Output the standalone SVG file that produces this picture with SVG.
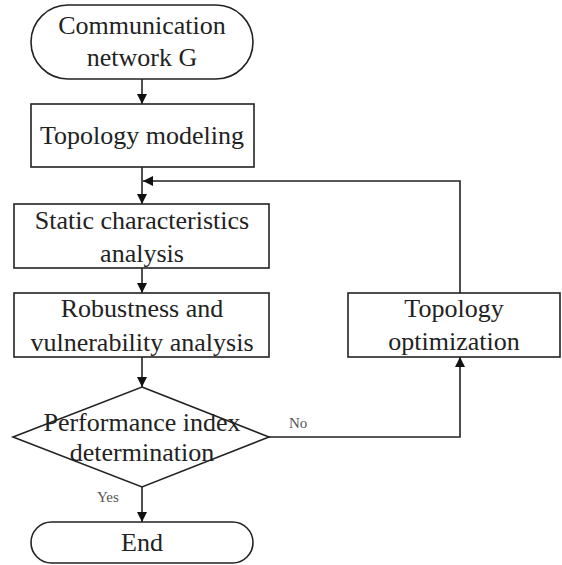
<svg xmlns="http://www.w3.org/2000/svg" width="562" height="565" viewBox="0 0 562 565">
<style>
.shape{fill:#fff;stroke:#222;stroke-width:1.6}
.t{font-family:"Liberation Serif",serif;font-size:26px;fill:#222;text-anchor:middle}
.lbl{font-family:"Liberation Serif",serif;font-size:15px;fill:#555}
.conn{fill:none;stroke:#222;stroke-width:1.6}
</style>
<defs>
<marker id="ah" viewBox="0 0 10 10" refX="10" refY="5" markerWidth="10" markerHeight="10" markerUnits="userSpaceOnUse" orient="auto">
<path d="M0,0 L10,5 L0,10 Z" fill="#111"/>
</marker>
</defs>
<g id="connectors">
<line class="conn" x1="142" y1="79" x2="142" y2="104" marker-end="url(#ah)"/>
<line class="conn" x1="142" y1="167" x2="142" y2="204" marker-end="url(#ah)"/>
<line class="conn" x1="142" y1="268" x2="142" y2="293" marker-end="url(#ah)"/>
<line class="conn" x1="142" y1="357" x2="142" y2="387" marker-end="url(#ah)"/>
<line class="conn" x1="142" y1="487" x2="142" y2="522" marker-end="url(#ah)"/>
<polyline class="conn" points="269,437 460,437 460,357" marker-end="url(#ah)"/>
<polyline class="conn" points="460,293 460,181 143,181" marker-end="url(#ah)"/>
<text class="lbl" x="289" y="428">No</text>
<text class="lbl" x="97" y="502">Yes</text>
</g>
<g id="start">
<rect class="shape" x="31" y="5" width="222" height="74" rx="37" ry="37"/>
<text class="t" x="142" y="34">Communication</text>
<text class="t" x="142" y="66">network G</text>
</g>
<g id="topology-modeling">
<rect class="shape" x="31" y="104" width="223" height="63"/>
<text class="t" x="142" y="144">Topology modeling</text>
</g>
<g id="static-analysis">
<rect class="shape" x="14" y="204" width="255" height="64"/>
<text class="t" x="142" y="229">Static characteristics</text>
<text class="t" x="142" y="262">analysis</text>
</g>
<g id="robustness">
<rect class="shape" x="14" y="293" width="255" height="64"/>
<text class="t" x="142" y="317">Robustness and</text>
<text class="t" x="142" y="351">vulnerability analysis</text>
</g>
<g id="decision">
<polygon class="shape" points="142,387 269,437 142,487 13,437"/>
<text class="t" x="142" y="431">Performance index</text>
<text class="t" x="142" y="461">determination</text>
</g>
<g id="end">
<rect class="shape" x="31" y="522" width="222" height="41" rx="20.5" ry="20.5"/>
<text class="t" x="142" y="551">End</text>
</g>
<g id="topology-optimization">
<rect class="shape" x="348" y="293" width="212" height="64"/>
<text class="t" x="454" y="317">Topology</text>
<text class="t" x="454" y="350">optimization</text>
</g>
</svg>
